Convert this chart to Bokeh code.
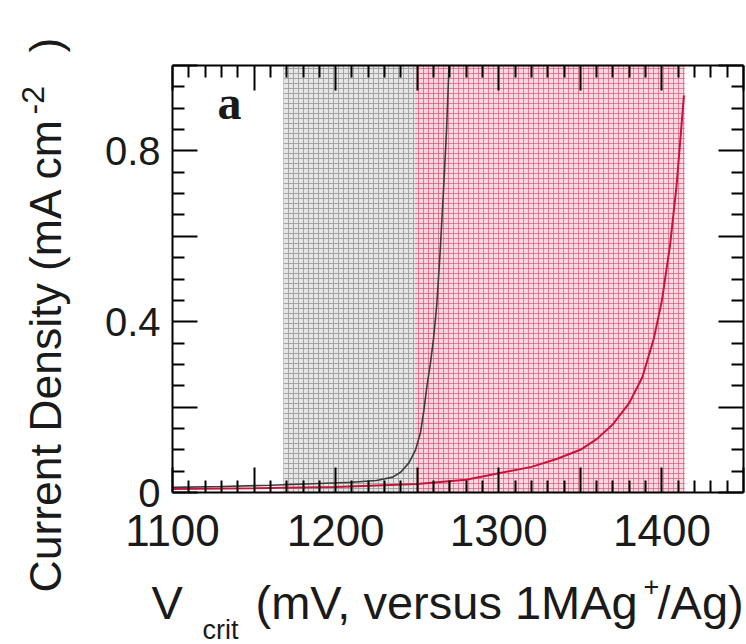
import math
from bokeh.plotting import figure
from bokeh.models import LinearAxis, FixedTicker, Range1d, Label
from bokeh.embed import file_html
from bokeh.resources import INLINE

# ---------------- data ----------------
gray_v = [1100, 1130, 1160, 1190, 1210, 1225, 1235, 1240, 1245, 1249, 1252,
          1254, 1256, 1258, 1260, 1262, 1264, 1266, 1268, 1269.5]
gray_j = [0.012, 0.014, 0.017, 0.021, 0.024, 0.028, 0.036, 0.048, 0.07, 0.10, 0.14,
          0.19, 0.25, 0.30, 0.36, 0.44, 0.56, 0.70, 0.85, 1.0]

red_v = [1100, 1150, 1200, 1250, 1280, 1300, 1320, 1335, 1350, 1360, 1370,
         1380, 1388, 1395, 1400, 1405, 1409, 1412, 1413.5]
red_j = [0.008, 0.010, 0.013, 0.020, 0.030, 0.045, 0.060, 0.078, 0.10, 0.125, 0.16,
         0.21, 0.27, 0.36, 0.45, 0.58, 0.72, 0.86, 0.93]

gray_band = [1168, 1269]
red_band = [1249, 1414]

x_major = [1100, 1150, 1200, 1250, 1300, 1350, 1400, 1450]
x_minor = [v for v in range(1100, 1451, 10) if v % 50 != 0]
x_labels = {1100: "1100", 1150: "", 1200: "1200", 1250: "", 1300: "1300",
            1350: "", 1400: "1400", 1450: ""}

y_major = [0, 0.2, 0.4, 0.6, 0.8, 1.0]
y_minor = [0.05, 0.1, 0.15, 0.25, 0.3, 0.35, 0.45, 0.5, 0.55, 0.65, 0.7, 0.75,
           0.85, 0.9, 0.95]
y_labels = {0: "0", 0.2: "", 0.4: "0.4", 0.6: "", 0.8: "0.8", 1.0: ""}

# ---------------- layout constants ----------------
W, H = 746, 644
FL, FR, FT, FB = 172, 743, 65, 492          # plot box in canvas pixels
XMIN, XMAX, YMIN, YMAX = 1100, 1450, 0.0, 1.0
BASE_K = 0.39                               # Bokeh "alphabetic" offset, in em


def X(px):
    return XMIN + (px - FL) * (XMAX - XMIN) / (FR - FL)


def Y(py):
    return YMIN + (FB - py) * (YMAX - YMIN) / (FB - FT)


# the frame fills the canvas; the plot box is drawn by fixed-location axes
p = figure(width=W, height=H, x_range=Range1d(X(0), X(W)), y_range=Range1d(Y(H), Y(0)),
           output_backend="svg", toolbar_location=None,
           x_axis_location=None, y_axis_location=None,
           min_border_left=0, min_border_right=0, min_border_top=0, min_border_bottom=0)
p.grid.visible = False
p.background_fill_color = "white"
p.border_fill_color = "white"
p.outline_line_color = None


def make_axis(ticks, minor, labels, font_size, loc, bounds):
    ax = LinearAxis(ticker=FixedTicker(ticks=ticks, minor_ticks=minor),
                    fixed_location=loc, bounds=bounds)
    ax.major_tick_in = 25
    ax.major_tick_out = 0
    ax.minor_tick_in = 12
    ax.minor_tick_out = 0
    ax.major_tick_line_width = 2
    ax.minor_tick_line_width = 2
    ax.axis_line_width = 2
    ax.major_tick_line_color = "black"
    ax.minor_tick_line_color = "black"
    ax.axis_line_color = "black"
    if labels is not None:
        ax.major_label_overrides = labels
        ax.major_label_text_font = "Liberation Sans"
        ax.major_label_text_font_size = font_size
        ax.major_label_text_color = "#1a1a1a"
    else:
        ax.major_label_text_alpha = 0
        ax.major_label_overrides = {t: "" for t in ticks}
    return ax


bx = make_axis(x_major, x_minor, x_labels, "44px", YMIN, (XMIN, XMAX))
bx.major_label_standoff = 22
p.add_layout(bx, "below")
tx = make_axis(x_major, x_minor, None, None, YMAX, (XMIN, XMAX))
p.add_layout(tx, "above")
ly = make_axis(y_major, y_minor, y_labels, "40px", XMIN, (YMIN, YMAX))
ly.major_label_standoff = 12
p.add_layout(ly, "left")
ry = make_axis(y_major, y_minor, None, None, XMAX, (YMIN, YMAX))
p.add_layout(ry, "right")

# shaded windows
p.quad(left=[gray_band[0]], right=[gray_band[1]], bottom=[YMIN], top=[YMAX],
       fill_color="#e6e6e6", line_color=None,
       hatch_pattern="+", hatch_color="#9a9a9a", hatch_scale=5, hatch_weight=1,
       hatch_alpha=0.85, level="underlay")
p.quad(left=[red_band[0]], right=[red_band[1]], bottom=[YMIN], top=[YMAX],
       fill_color="#f8d0da", fill_alpha=0.82, line_color=None,
       hatch_pattern="+", hatch_color="#d6486c", hatch_scale=5, hatch_weight=1,
       hatch_alpha=0.62, level="underlay")

# curves
p.line(gray_v, gray_j, line_color="#3c3c3c", line_width=1.6)
p.line(red_v, red_j, line_color="#c8143c", line_width=2)

tc = "#1a1a1a"


def clabel(px, py, text, size, rotated=False, font="Liberation Sans", style="normal"):
    """Place text with its alphabetic baseline at canvas pixel (px, py)."""
    shift = BASE_K * size
    if rotated:
        x, y, ang = X(px - shift), Y(py), math.pi / 2
    else:
        x, y, ang = X(px), Y(py - shift), 0.0
    return Label(x=x, y=y, text=text, angle=ang, text_font=font,
                 text_font_style=style, text_font_size=f"{size}px",
                 text_color=tc, text_baseline="alphabetic", text_align="left")


# panel letter
p.add_layout(clabel(217, 121, "a", 48, font="Liberation Serif", style="bold"))

# x axis title pieces
p.add_layout(clabel(151, 620, "V", 47))
p.add_layout(clabel(202, 640, "crit", 27))
p.add_layout(clabel(255, 620, "(mV, versus 1MAg", 47))
p.add_layout(clabel(643, 597, "+", 27))
p.add_layout(clabel(657, 620, "/Ag)", 47))

# y axis title pieces (rotated, reading bottom to top)
p.add_layout(clabel(62, 592, "Current Density (mA cm", 44.5, rotated=True))
p.add_layout(clabel(45, 114, "-2", 32, rotated=True))
p.add_layout(clabel(62, 52, ")", 44.5, rotated=True))

open("out.html", "w").write(file_html(p, INLINE))
